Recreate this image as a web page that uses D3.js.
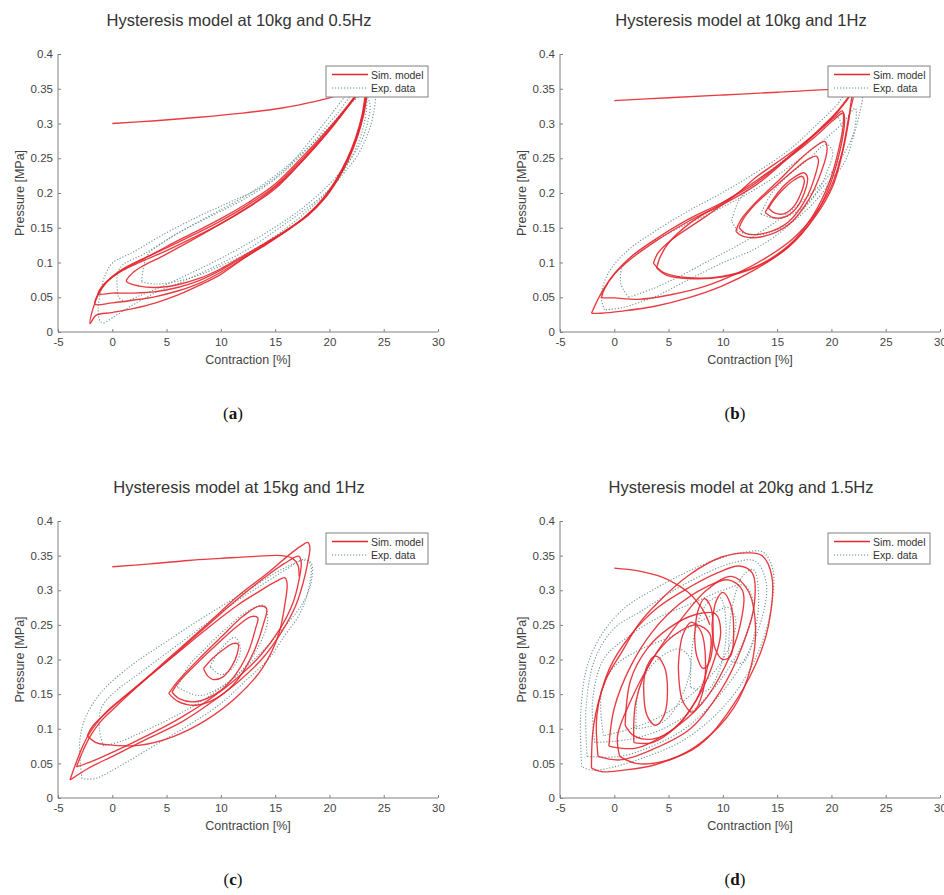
<!DOCTYPE html>
<html>
<head>
<meta charset="utf-8">
<script src="https://cdn.jsdelivr.net/npm/d3@7"></script>
<style>
  body { margin: 0; background: #fff; }
  svg { display: block; font-family: "Liberation Sans", Arial, sans-serif; }
</style>
</head>
<body>
<svg id="chart" width="944" height="895"></svg>
<script>
// ---- text ----
const titles = [
  "Hysteresis model at 10kg and 0.5Hz",
  "Hysteresis model at 10kg and 1Hz",
  "Hysteresis model at 15kg and 1Hz",
  "Hysteresis model at 20kg and 1.5Hz"
];
const captions = ["a", "b", "c", "d"];
const legendLabels = ["Sim. model", "Exp. data"];
const xLabel = "Contraction [%]";
const yLabel = "Pressure [MPa]";
const xTicks = [-5, 0, 5, 10, 15, 20, 25, 30];
const yTicks = [0, 0.05, 0.1, 0.15, 0.2, 0.25, 0.3, 0.35, 0.4];
const yTickLabels = ["0", "0.05", "0.1", "0.15", "0.2", "0.25", "0.3", "0.35", "0.4"];

// ---- (a) 10kg 0.5Hz : [contraction %, pressure MPa] ----
const simAInit = [[0,0.300],[4,0.304],[8,0.309],[12,0.315],[15.5,0.322],[18.5,0.331],[21,0.342],[23.2,0.356],[23.6,0.36]];
const simA = [
  [[23.6,0.36],[23.3,0.34],[23,0.312],[22.4,0.279],[21.6,0.248],[20.6,0.219],[19.4,0.192],[17.9,0.168],[16.1,0.146],[14.2,0.126],[12.3,0.108],[10,0.083],[8,0.067],[6,0.053],[4,0.042],[2,0.034],[0,0.028],[-1.5,0.024],[-2.05,0.012],
   [-1.75,0.035],[-1.25,0.055],[-0.6,0.07],[0,0.079],[1,0.089],[2.5,0.1],[5,0.117],[7.5,0.136],[10,0.156],[12.5,0.179],[15,0.206],[17.5,0.246],[20,0.29],[21.8,0.326],[23,0.35],[23.6,0.36]],
  [[23.6,0.36],[23.35,0.34],[23.05,0.312],[22.45,0.279],[21.65,0.248],[20.65,0.219],[19.45,0.192],[17.95,0.168],[16.1,0.147],[14.2,0.127],[12.2,0.107],[10,0.086],[8,0.07],[6,0.059],[4,0.051],[2,0.046],[0,0.042],[-1.6,0.04],
   [-1.3,0.055],[-0.8,0.068],[0,0.08],[1,0.091],[2.5,0.103],[5,0.121],[7.5,0.14],[10,0.16],[12.5,0.183],[15,0.21],[17.5,0.249],[20,0.292],[21.8,0.327],[23,0.351],[23.6,0.36]],
  [[23.6,0.36],[23.4,0.34],[23.1,0.312],[22.5,0.279],[21.7,0.248],[20.7,0.219],[19.5,0.192],[18,0.168],[16.2,0.147],[14.2,0.128],[12.1,0.108],[10,0.089],[8,0.074],[6,0.064],[4,0.058],[2,0.056],[0,0.056],[-1.3,0.055],
   [-0.9,0.066],[0,0.079],[1,0.09],[2.5,0.102],[5,0.123],[7.5,0.143],[10,0.163],[12.5,0.186],[15,0.213],[17.5,0.252],[20,0.294],[21.8,0.328],[23,0.352],[23.6,0.36]],
  [[23.6,0.36],[23.45,0.34],[23.15,0.312],[22.55,0.279],[21.75,0.248],[20.75,0.219],[19.55,0.192],[18.05,0.168],[16.2,0.148],[14.2,0.129],[12,0.109],[10,0.091],[8,0.077],[6,0.068],[4,0.064],[2.5,0.066],[1.3,0.073],
   [1.8,0.084],[2.8,0.095],[4.5,0.108],[6.5,0.125],[9,0.147],[11.5,0.17],[14,0.196],[16.5,0.23],[19,0.272],[21,0.31],[22.5,0.34],[23.6,0.36]]
];
const expA = [
  [[-0.7,0.013],[-1.1,0.015],[-1.3,0.032],[-1.1,0.056],[-0.7,0.08],[0,0.099],[1.8,0.114],[4.9,0.142],[7.9,0.166],[10.7,0.186],[13.8,0.209],[16.2,0.238],[17.8,0.267],[19.3,0.296],[20.5,0.32],[21.5,0.34],[22.5,0.355],[23.6,0.362],
   [24.2,0.345],[24,0.31],[23.4,0.28],[22.5,0.252],[21.3,0.228],[20,0.205],[18.5,0.185],[16.5,0.162],[14.4,0.139],[12.6,0.12],[10.7,0.104],[8.6,0.088],[6.4,0.072],[3.9,0.056],[1.8,0.038],[0.25,0.023],[-0.7,0.013]],
  [[1.2,0.043],[0.6,0.05],[0.45,0.065],[0.5,0.085],[1,0.097],[3,0.113],[6,0.142],[9,0.166],[12,0.19],[15,0.22],[18,0.264],[20.5,0.31],[22.8,0.35],
   [23.7,0.33],[23.5,0.3],[22.8,0.27],[21.5,0.24],[19.5,0.205],[17,0.172],[14.5,0.146],[12,0.123],[9.5,0.102],[7,0.083],[4.5,0.065],[2.5,0.052],[1.2,0.043]],
  [[2.7,0.072],[4,0.069],[6,0.073],[8,0.082],[10,0.095],[12.5,0.114],[15,0.138],[17.5,0.168],[20,0.205],[22,0.25],[23.2,0.3],[23.3,0.34],
   [22,0.33],[20,0.295],[17.5,0.258],[15,0.225],[12.5,0.198],[10,0.176],[7.5,0.155],[5,0.132],[3.3,0.112],[2.9,0.095],[2.7,0.072]]
];

// ---- (b) 10kg 1Hz ----
const simBInit = [[0,0.333],[5,0.337],[10,0.341],[15,0.345],[19.8,0.349],[21.3,0.351],[22.3,0.355]];
const simB = [
  [[-2.1,0.027],[-1.2,0.056],[0.06,0.085],[1.6,0.109],[3.75,0.133],[6.8,0.162],[9.9,0.186],[13,0.214],[16.1,0.253],[18.5,0.286],[20.4,0.315],[21.6,0.339],[22.3,0.355],
   [21.9,0.339],[21.6,0.305],[21,0.257],[20.1,0.209],[18.5,0.166],[16.1,0.123],[13,0.09],[9.9,0.066],[6.8,0.049],[3.75,0.037],[0.7,0.03],[-1.2,0.027],[-2.1,0.027]],
  [[-1.2,0.049],[0,0.049],[2.2,0.047],[5.3,0.054],[8.4,0.066],[11.4,0.085],[14,0.107],[16.5,0.135],[18.5,0.17],[20,0.21],[21,0.26],[21.6,0.31],[22.1,0.348],
   [21.5,0.335],[20.3,0.312],[18.4,0.283],[16,0.25],[13,0.211],[9.9,0.183],[6.8,0.159],[3.75,0.13],[1.6,0.106],[0,0.083],[-0.9,0.062],[-1.2,0.049]],
  [[3.6,0.099],[4.5,0.086],[6.8,0.078],[9.9,0.08],[13,0.094],[16.1,0.125],[18.2,0.165],[19.8,0.215],[20.7,0.265],[21.1,0.3],[21,0.318],
   [20.2,0.308],[18.5,0.285],[16,0.255],[13,0.222],[11.4,0.2],[8.4,0.166],[5.3,0.133],[4,0.113],[3.6,0.099]],
  [[3.9,0.092],[4.8,0.082],[6.8,0.077],[9.9,0.079],[13,0.093],[16.1,0.123],[18.3,0.163],[19.9,0.213],[20.8,0.262],[21.2,0.3],[21.1,0.315],
   [20.2,0.305],[18.5,0.281],[16,0.25],[13,0.217],[10,0.186],[7,0.157],[5,0.128],[4.2,0.107],[3.9,0.092]],
  [[11.2,0.145],[11.8,0.138],[13.6,0.137],[16.1,0.155],[17.9,0.19],[19.1,0.232],[19.6,0.262],[19.4,0.274],
   [18.6,0.268],[17.2,0.25],[15.4,0.222],[13,0.186],[11.6,0.16],[11.2,0.145]],
  [[11.5,0.15],[12.1,0.142],[13.8,0.142],[16,0.158],[17.6,0.19],[18.5,0.225],[18.8,0.248],[18.6,0.253],
   [17.9,0.249],[16.7,0.235],[15,0.212],[13,0.184],[11.9,0.163],[11.5,0.15]],
  [[14.2,0.178],[14.8,0.171],[15.6,0.17],[16.5,0.18],[17.2,0.2],[17.5,0.218],[17.3,0.224],[16.6,0.219],[15.6,0.206],[14.7,0.19],[14.2,0.178]],
  [[13.9,0.172],[14.6,0.165],[15.6,0.165],[16.7,0.177],[17.5,0.2],[17.8,0.222],[17.5,0.229],[16.7,0.224],[15.6,0.21],[14.5,0.188],[13.9,0.172]]
];
const expB = [
  [[-0.9,0.032],[-1.2,0.05],[-0.55,0.085],[1.3,0.118],[3.75,0.145],[6.8,0.174],[9.9,0.2],[13,0.229],[16.1,0.262],[18.5,0.296],[20.4,0.325],[21.8,0.35],
   [22.8,0.345],[22.6,0.315],[22,0.28],[21.3,0.247],[20.3,0.225],[19.2,0.209],[17.6,0.18],[15.5,0.146],[13,0.12],[9.9,0.099],[6.8,0.075],[3.75,0.051],[0.7,0.035],[-0.9,0.032]],
  [[1.3,0.05],[0.6,0.07],[0.8,0.095],[2.5,0.12],[6,0.15],[10,0.18],[14,0.215],[18,0.26],[21,0.3],[22.2,0.322],
   [22.1,0.29],[21.1,0.255],[19.6,0.222],[17.6,0.192],[15,0.16],[12,0.13],[9,0.105],[6,0.08],[3.5,0.062],[1.3,0.05]],
  [[10.8,0.16],[11.5,0.19],[13,0.215],[15,0.24],[17.5,0.27],[19.5,0.3],[20.5,0.31],[21,0.29],[20.6,0.25],[19.6,0.21],[18,0.18],[16,0.155],[13.5,0.14],[11.5,0.145],[10.8,0.16]],
  [[13.5,0.17],[14.5,0.2],[16,0.225],[18,0.25],[19.5,0.27],[20.1,0.26],[19.6,0.23],[18.6,0.2],[17,0.175],[15,0.163],[13.5,0.17]]
];

// ---- (c) 15kg 1Hz ----
const simCInit = [[0,0.334],[3.5,0.338],[7,0.343],[10,0.346],[13.2,0.349],[15.6,0.35],[16.6,0.346],[17.1,0.336],[17.2,0.32]];
const simC = [
  [[-3.9,0.026],[-3.4,0.048],[-2.8,0.072],[-2.2,0.091],[-1.3,0.111],[-0.3,0.128],[1,0.145],[2.4,0.163],[5.5,0.206],[8.6,0.249],[11.6,0.292],[14.4,0.326],[16.2,0.35],[17.4,0.364],[18,0.369],
   [18.2,0.362],[18,0.34],[17.6,0.312],[16.9,0.278],[15.6,0.24],[13.8,0.201],[11.6,0.168],[9.2,0.139],[6.4,0.11],[3.3,0.086],[0.25,0.062],[-2.2,0.043],[-3.4,0.031],[-3.9,0.026]],
  [[-3.3,0.045],[-2.7,0.068],[-2,0.09],[-1.1,0.11],[0.2,0.13],[2.4,0.162],[5.5,0.204],[8.6,0.247],[11.6,0.288],[14,0.318],[15.8,0.338],[17.2,0.349],
   [17.4,0.34],[17.2,0.315],[16.6,0.28],[15.4,0.243],[13.6,0.205],[11.4,0.172],[9,0.143],[6.2,0.115],[3.2,0.09],[0.3,0.068],[-2,0.052],[-3.3,0.045]],
  [[-2.3,0.09],[-1.5,0.08],[-0.5,0.077],[2.4,0.076],[5.5,0.088],[8.6,0.112],[11.6,0.148],[13.8,0.187],[15.3,0.235],[15.9,0.28],[16.1,0.31],[15.9,0.318],
   [15,0.312],[13.5,0.298],[11.5,0.278],[8.6,0.243],[5.5,0.203],[2.4,0.163],[-0.5,0.124],[-1.8,0.104],[-2.3,0.09]],
  [[5.5,0.153],[6.2,0.143],[7.6,0.139],[9.5,0.15],[11.2,0.175],[12.5,0.21],[13.2,0.245],[13.4,0.26],[12.8,0.262],[11.5,0.248],[9.5,0.22],[7.5,0.19],[6,0.165],[5.5,0.153]],
  [[5.2,0.151],[6,0.14],[7.7,0.134],[9.8,0.146],[11.6,0.172],[13,0.21],[13.9,0.25],[14.2,0.274],[13.5,0.277],[12,0.262],[10,0.232],[7.8,0.198],[6,0.168],[5.2,0.151]],
  [[8.4,0.187],[8.8,0.176],[9.3,0.171],[10.2,0.175],[11,0.19],[11.5,0.208],[11.6,0.222],[11.1,0.223],[10.2,0.214],[9.2,0.201],[8.4,0.187]]
];
const expC = [
  [[-2.8,0.028],[-3,0.081],[-2.5,0.115],[-1,0.153],[1.8,0.192],[4.9,0.225],[7.9,0.256],[10.7,0.283],[13,0.305],[15,0.325],[16.5,0.337],[17.8,0.345],
   [18.3,0.335],[18,0.297],[17.2,0.264],[15.9,0.235],[14.4,0.201],[12.2,0.168],[9.8,0.134],[7,0.105],[3.9,0.076],[0.9,0.048],[-1.6,0.028],[-2.8,0.028]],
  [[-0.8,0.075],[-1.2,0.1],[-1,0.13],[0,0.15],[2.5,0.18],[5.5,0.215],[8.5,0.25],[11.5,0.285],[14,0.31],[16,0.33],[17.5,0.343],
   [18.3,0.34],[18.3,0.31],[17.5,0.28],[16,0.25],[14,0.215],[11.5,0.178],[9,0.148],[6,0.12],[3,0.097],[0.8,0.082],[-0.8,0.075]],
  [[6,0.16],[7,0.19],[8.5,0.215],[10.5,0.245],[12.5,0.27],[14,0.278],[14.3,0.255],[13.5,0.22],[12,0.185],[10,0.16],[8,0.148],[6,0.16]],
  [[9,0.19],[10,0.215],[11.3,0.232],[11.8,0.215],[11.2,0.19],[10,0.178],[9,0.19]]
];

// ---- (d) 20kg 1.5Hz ----
const simDInit = [[0,0.332],[2.2,0.328],[4.4,0.319],[5.9,0.307],[6.8,0.297],[7.6,0.284],[8.3,0.268],[8.8,0.25]];
const simD = [
  [[-2.1,0.043],[-1.9,0.105],[-0.8,0.17],[0.7,0.211],[2.2,0.25],[3.75,0.278],[6.8,0.321],[9.9,0.348],[12.4,0.354],[13.6,0.35],[14.5,0.321],[14.2,0.249],[13,0.192],[10.5,0.124],[7.8,0.076],[3.75,0.048],[0.7,0.04],[-1.2,0.038],[-2.1,0.043]],
  [[-1.5,0.06],[-1.6,0.12],[-0.5,0.185],[1.5,0.235],[4,0.275],[7,0.305],[9.5,0.325],[11.5,0.335],[12.7,0.325],[12.9,0.28],[11.8,0.22],[9.8,0.155],[7,0.1],[3.5,0.07],[0.5,0.055],[-1.5,0.06]],
  [[-0.5,0.075],[0,0.13],[1.5,0.19],[3.5,0.24],[6,0.28],[8.5,0.305],[10.5,0.315],[11.8,0.3],[11.6,0.25],[10.2,0.19],[8,0.135],[5,0.095],[2,0.072],[-0.5,0.075]],
  [[0.5,0.06],[2,0.05],[5,0.055],[8,0.08],[11,0.13],[12.6,0.19],[13,0.25],[12.3,0.3],[10.8,0.32],[8.5,0.3],[6,0.255],[3.5,0.2],[1.5,0.14],[0.3,0.09],[0.5,0.06]],
  [[1,0.105],[1.5,0.17],[3,0.215],[5,0.245],[7.5,0.265],[9.3,0.266],[9.8,0.24],[9,0.19],[7.5,0.14],[5.5,0.1],[3.5,0.085],[1.8,0.09],[1,0.105]],
  [[1.8,0.08],[2,0.14],[3.5,0.2],[5.5,0.235],[7.5,0.25],[8.8,0.237],[8.6,0.19],[7.5,0.14],[5.5,0.1],[3.5,0.08],[1.8,0.08]],
  [[2.7,0.163],[3,0.19],[3.8,0.205],[4.6,0.19],[4.9,0.155],[4.6,0.12],[3.8,0.105],[3,0.12],[2.7,0.163]],
  [[5.9,0.19],[6.3,0.235],[7.1,0.254],[8,0.24],[8.4,0.2],[8.1,0.15],[7.2,0.124],[6.3,0.14],[5.9,0.19]],
  [[7.4,0.235],[7.7,0.27],[8.3,0.288],[8.9,0.275],[9.1,0.235],[8.8,0.198],[8.2,0.187],[7.6,0.205],[7.4,0.235]],
  [[9,0.25],[9.4,0.285],[10,0.297],[10.7,0.28],[11,0.24],[10.7,0.205],[10,0.2],[9.3,0.215],[9,0.25]]
];
const expD = [
  [[-3,0.045],[-3.1,0.12],[-2.5,0.19],[-1,0.24],[1,0.275],[3.5,0.3],[6.5,0.325],[9.5,0.345],[12,0.355],[13.7,0.355],[14.6,0.33],[14.5,0.28],[13.5,0.22],[11.5,0.16],[9,0.115],[6,0.08],[3,0.06],[0,0.045],[-2,0.04],[-3,0.045]],
  [[-2.5,0.06],[-2.6,0.13],[-1.8,0.2],[0,0.245],[2.5,0.27],[5.5,0.3],[8.5,0.325],[11,0.34],[13,0.342],[14,0.31],[13.6,0.26],[12,0.2],[9.5,0.145],[6.5,0.1],[3.5,0.075],[0.5,0.06],[-2.5,0.06]],
  [[-1.8,0.08],[-2,0.14],[-1,0.2],[1,0.23],[4,0.26],[7,0.28],[10,0.3],[12,0.307],[12.8,0.28],[12,0.23],[10,0.175],[7.5,0.13],[4.5,0.1],[1.5,0.085],[-1.8,0.08]],
  [[-1,0.09],[-1.2,0.15],[0,0.19],[2.5,0.215],[5.5,0.235],[8.5,0.26],[10.5,0.275],[11.2,0.255],[10,0.2],[7.5,0.155],[4.5,0.12],[1.5,0.1],[-1,0.09]],
  [[7,0.16],[7.3,0.23],[8.5,0.28],[9.7,0.29],[10.3,0.25],[9.8,0.19],[8.5,0.155],[7,0.16]],
  [[10.5,0.2],[10.8,0.27],[11.8,0.32],[12.8,0.33],[13.3,0.29],[12.8,0.23],[11.8,0.195],[10.5,0.2]],
  [[2,0.1],[2.3,0.16],[4,0.2],[6,0.215],[7,0.2],[6.3,0.15],[4.5,0.11],[2,0.1]]
];

// ---- layout ----
const panels = [
  { title: titles[0], cap: captions[0], left: 58,  top: 54,  h: 278, init: simAInit, sim: simA, exp: expA },
  { title: titles[1], cap: captions[1], left: 560, top: 54,  h: 278, init: simBInit, sim: simB, exp: expB },
  { title: titles[2], cap: captions[2], left: 58,  top: 521, h: 277, init: simCInit, sim: simC, exp: expC },
  { title: titles[3], cap: captions[3], left: 560, top: 521, h: 277, init: simDInit, sim: simD, exp: expD }
];
const W = 380;
const simColor = "#e5262e";
const expColor = "#5d8c8c";
const axisColor = "#808080";
const textColor = "#444";

const svg = d3.select("#chart");

panels.forEach(p => {
  const g = svg.append("g").attr("transform", `translate(${p.left},${p.top})`);
  const x = d3.scaleLinear().domain([-5, 30]).range([0, W]);
  const y = d3.scaleLinear().domain([0, 0.4]).range([p.h, 0]);

  const line = d3.line().x(d => x(d[0])).y(d => y(d[1])).curve(d3.curveCatmullRom.alpha(0.5));

  // experimental data (dotted)
  g.append("g").selectAll("path").data(p.exp).join("path")
    .attr("d", line)
    .attr("fill", "none")
    .attr("stroke", expColor)
    .attr("stroke-width", 1.1)
    .attr("stroke-dasharray", "1.2,1.8")
    .attr("opacity", 0.9);

  // simulation (solid red)
  g.append("g").selectAll("path").data([p.init].concat(p.sim)).join("path")
    .attr("d", line)
    .attr("fill", "none")
    .attr("stroke", simColor)
    .attr("stroke-width", 1.35)
    .attr("stroke-linejoin", "round")
    .attr("opacity", 0.9);

  // axes, MATLAB style with inward ticks
  const xAxis = d3.axisBottom(x).tickValues(xTicks).tickSize(-3).tickPadding(6).tickFormat(d => String(d));
  const yAxis = d3.axisLeft(y).tickValues(yTicks).tickSize(-3).tickPadding(5).tickFormat((d, i) => yTickLabels[i]);

  const gx = g.append("g").attr("transform", `translate(0,${p.h})`).call(xAxis);
  const gy = g.append("g").call(yAxis);
  [gx, gy].forEach(a => {
    a.select(".domain").attr("stroke", axisColor).attr("d", a === gx ? `M0,0H${W}` : `M0,0V${p.h}`);
    a.selectAll(".tick line").attr("stroke", axisColor);
    a.selectAll(".tick text").attr("fill", textColor).attr("font-size", "11.5px")
      .attr("font-family", "'Liberation Sans', Arial, sans-serif");
  });

  // labels
  g.append("text").attr("x", 181).attr("y", -28).attr("text-anchor", "middle")
    .attr("font-size", "16.5px").attr("fill", "#333").text(p.title);
  g.append("text").attr("x", W / 2).attr("y", p.h + 32).attr("text-anchor", "middle")
    .attr("font-size", "12.5px").attr("fill", textColor).text(xLabel);
  g.append("text").attr("transform", `translate(-34,${p.h / 2}) rotate(-90)`).attr("text-anchor", "middle")
    .attr("font-size", "12.5px").attr("fill", textColor).text(yLabel);

  // legend
  const lg = g.append("g").attr("transform", `translate(${W - 112},12)`);
  lg.append("rect").attr("width", 102).attr("height", 31)
    .attr("fill", "#fff").attr("stroke", axisColor).attr("stroke-width", 1);
  lg.append("line").attr("x1", 6).attr("x2", 42).attr("y1", 8.5).attr("y2", 8.5)
    .attr("stroke", simColor).attr("stroke-width", 1.3);
  lg.append("line").attr("x1", 6).attr("x2", 42).attr("y1", 22).attr("y2", 22)
    .attr("stroke", expColor).attr("stroke-width", 1).attr("stroke-dasharray", "1.2,1.8");
  lg.selectAll("text.lg").data(legendLabels).join("text")
    .attr("x", 45).attr("y", (d, i) => 12.5 + i * 13.5)
    .attr("font-size", "10.5px").attr("fill", "#333").text(d => d);

  // caption (a), (b) ...
  const cap = svg.append("text").attr("x", p.left + 175).attr("y", p.top + p.h + 87)
    .attr("text-anchor", "middle").attr("font-family", "'Liberation Serif', 'DejaVu Serif', serif")
    .attr("font-size", "17px").attr("fill", "#111");
  cap.append("tspan").text("(");
  cap.append("tspan").attr("font-weight", "bold").text(p.cap);
  cap.append("tspan").text(")");
});
</script>
</body>
</html>
